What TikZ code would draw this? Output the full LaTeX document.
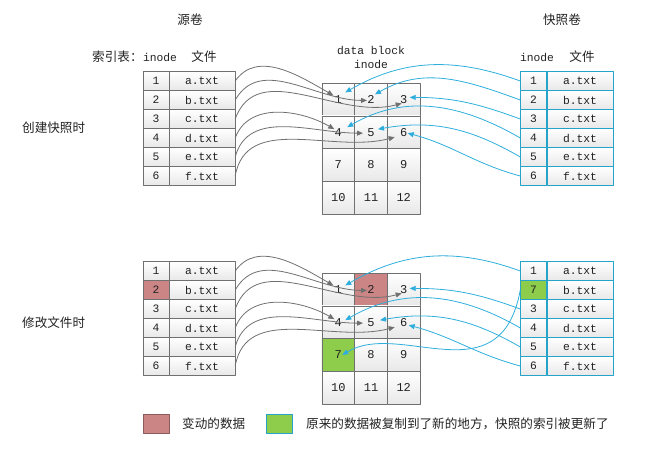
\documentclass[tikz,border=0pt]{standalone}
\usepackage{fontspec}
\setmonofont{Liberation Mono}
\newfontfamily\cjk{Noto Sans CJK SC}
\usepackage{tikz}
\usetikzlibrary{arrows.meta}
\definecolor{frame}{HTML}{707070}
\definecolor{shade}{HTML}{E8E8E8}
\definecolor{sky}{HTML}{2EAEDC}
\definecolor{skydk}{HTML}{25A3C8}
\definecolor{rose}{HTML}{CC8585}
\definecolor{rosedk}{HTML}{8A5C5C}
\definecolor{leaf}{HTML}{8DCD4B}
\definecolor{ink}{HTML}{222222}
\tikzset{fig/.style={line join=round,>={Triangle[length=6pt,width=5pt]}},
  cell/.style={draw=frame,top color=white,bottom color=shade,inner sep=0pt,
    text=ink,font=\fontsize{11.3}{12}\ttfamily},
  idx/.style={cell,minimum width=26,minimum height=19},
  file/.style={cell,minimum width=66,minimum height=19},
  blk/.style={cell,minimum width=32.7,minimum height=32.75,font=\fontsize{12}{13}\ttfamily},
  snap/.style={draw=skydk},
  cjktxt/.style={font=\fontsize{12.6}{14}\cjk,text=ink,inner sep=0pt},
  monotxt/.style={font=\fontsize{11.3}{12}\ttfamily,text=ink,inner sep=0pt},
  garrow/.style={frame,line width=0.8pt,->},
  carrow/.style={sky,line width=0.8pt,->},
  % cells that change when a file is modified
  hl-ms2/.style={top color=rose,bottom color=rose},
  hl-mb2/.style={top color=rose,bottom color=rose},
  hl-mb7/.style={top color=leaf,bottom color=leaf},
  hl-mp2/.style={top color=leaf,bottom color=leaf}}

\begin{document}
\begin{tikzpicture}[fig,x=1pt,y=-1pt]
  \useasboundingbox (0,0) rectangle (664,455);
  % titles
  \node[cjktxt] (srcvol) at (190,20) {源卷};
  \node[cjktxt] (snapvol) at (562,20) {快照卷};
  \node[monotxt] (sinode) at (160,57) {inode};
  \node[cjktxt] (sfile) at (204,57) {文件};
  \node[cjktxt,anchor=east] (sindex) at (sinode.west) {索引表：};
  \node[monotxt] (pinode) at (537,57) {inode};
  \node[cjktxt] (pfile) at (582,57) {文件};
  \node[monotxt] (dblock) at (371,50) {data block};
  \node[monotxt] (dinode) at (371,64) {inode};
  \node[cjktxt,anchor=west] (create) at (22,128) {创建快照时};
  \node[cjktxt,anchor=west] (modify) at (22,323) {修改文件时};
  \foreach \p/\dy/\two in {t/0/2,m/190/7}{
    \foreach \f [count=\i] in {a,b,c,d,e,f}{
      % source volume: inode -> file
      \node[idx,hl-\p s\i/.try] (\p s\i) at (156,{62+19*\i+\dy}) {\i};
      \node[file] (\p sf\i) at (202,{62+19*\i+\dy}) {\f.txt};
      % snapshot volume
      \node[idx,snap,hl-\p p\i/.try] (\p p\i) at (533.5,{62+19*\i+\dy}) {\ifnum\i=2 \two\else\i\fi};
      \node[file,snap] (\p pf\i) at (580,{62+19*\i+\dy}) {\f.txt};
    }
    % data blocks 1..12
    \foreach \n in {1,...,12}{
      \pgfmathtruncatemacro\col{mod(\n-1,3)}
      \pgfmathtruncatemacro\row{(\n-1)/3}
      \node[blk,hl-\p b\n/.try] (\p b\n) at ({338.3+32.7*\col},{99.4+32.75*\row+\dy}) {\n};
    }
    % source inodes point at their blocks
    \foreach \i/\o/\a/\dx/\dd in {1/55/150/-5/-4,2/60/180/-4/1,3/70/195/-2/4,
                                   4/70/150/-4/-3,5/75/180/-8/1,6/80/195/-9/5}
      \draw[garrow] (\p sf\i.east) to[out=\o,in=\a] ([shift={(\dx,\dd)}]\p b\i.center);
  }
  % snapshot inodes -> blocks, right after the snapshot
  \foreach \i/\o/\a/\dx/\dd in {1/160/30/7/-7,2/160/30/4/-5,3/160/0/6/-2,
                                 4/150/30/9/-5,5/150/10/7/-3,6/165/-15/4/1}
    \draw[carrow] (tp\i.west) to[out=\o,in=\a] ([shift={(\dx,\dd)}]tb\i.center);
  % after b.txt changed: old block copied to 7
  \foreach \i/\o/\a/\dx/\dd in {1/160/30/7/-4,3/160/0/6/-1,
                                 4/150/30/7/-2,5/150/10/9/-2,6/165/-15/5/3}
    \draw[carrow] (mp\i.west) to[out=\o,in=\a] ([shift={(\dx,\dd)}]mb\i.center);
  \draw[carrow] (mp2.west) .. controls +(-20,108) and +(58,-35) .. ([shift={(4,0)}]mb7.center);
  % legend
  \node[minimum width=26,minimum height=19,fill=rose,draw=rosedk] (kred) at (156,423.5) {};
  \node[cjktxt,anchor=west] (kredtxt) at (182,424) {变动的数据};
  \node[minimum width=26,minimum height=19,fill=leaf,draw=skydk] (kgreen) at (279,423.5) {};
  \node[cjktxt,anchor=west] (kgreentxt) at (306,424) {原来的数据被复制到了新的地方，快照的索引被更新了};
\end{tikzpicture}
\end{document}
